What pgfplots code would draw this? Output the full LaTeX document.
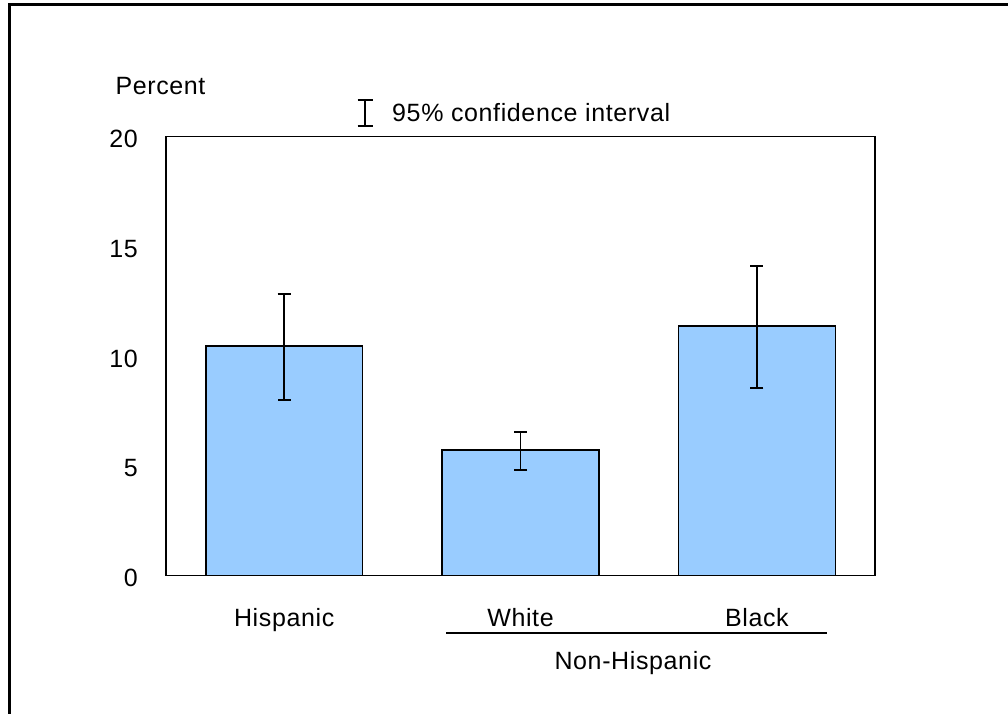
\documentclass[border=0pt]{standalone}
\usepackage{fontspec}
\setmainfont[LetterSpace=2.5]{Liberation Sans}
\usepackage{pgfplots}
\pgfplotsset{compat=1.18}
\usepackage{pgfplotstable}
\definecolor{barblue}{HTML}{99CCFF}
\pgfplotstableread{
x y ep em
0 10.46 2.35 2.45
1 5.73 0.81 0.92
2 11.37 2.72 2.81
}\datatable
\begin{document}
\begin{tikzpicture}[x=1pt,y=1pt]
\path[use as bounding box] (0,0) rectangle (1008,713);
\draw[line width=3pt] (9,-50) -- (9,708) -- (1100,708);
\begin{axis}[
  at={(166pt,137.5pt)}, anchor=south west,
  scale only axis, width=709pt, height=439pt,
  xmin=-0.5, xmax=2.5, ymin=0, ymax=20,
  xtick={0,1,2}, xticklabels={Hispanic,White,Black},
  ytick={0,5,10,15,20},
  major tick length=0pt,
  axis line style={line width=1.5pt},
  /pgf/number format/assume math mode=true,
  tick label style={font=\fontsize{25}{30}\selectfont},
  xticklabel style={anchor=base, yshift=-51pt},
  yticklabel style={anchor=east, inner sep=0pt, xshift=-28pt, yshift=-2.5pt},
  ybar, bar width=0.664,
]
\addplot[fill=barblue, draw=black, line width=1.6pt,
  error bars/.cd, y dir=both, y explicit,
  error bar style={line width=1.5pt, black},
  error mark options={rotate=90, mark size=6.5pt, line width=2pt, black}]
  table[x=x, y=y, y error plus=ep, y error minus=em] {\datatable};
\end{axis}
\node[anchor=base, font=\fontsize{25}{30}\selectfont, inner sep=0pt] at (160.5,618) {Percent};
\draw[line width=1.2pt] (365,587) -- (365,613);
\draw[line width=1.2pt] (357.5,587) -- (372.5,587);
\draw[line width=1.2pt] (357.5,613) -- (372.5,613);
\node[anchor=base west, font=\fontsize{25}{30}\selectfont, inner sep=0pt] at (392,591) {95\% confidence interval};
\draw[line width=1.5pt] (446,80) -- (827,80);
\node[anchor=base, font=\fontsize{25}{30}\selectfont, inner sep=0pt] at (633,44) {Non-Hispanic};
\end{tikzpicture}
\end{document}
